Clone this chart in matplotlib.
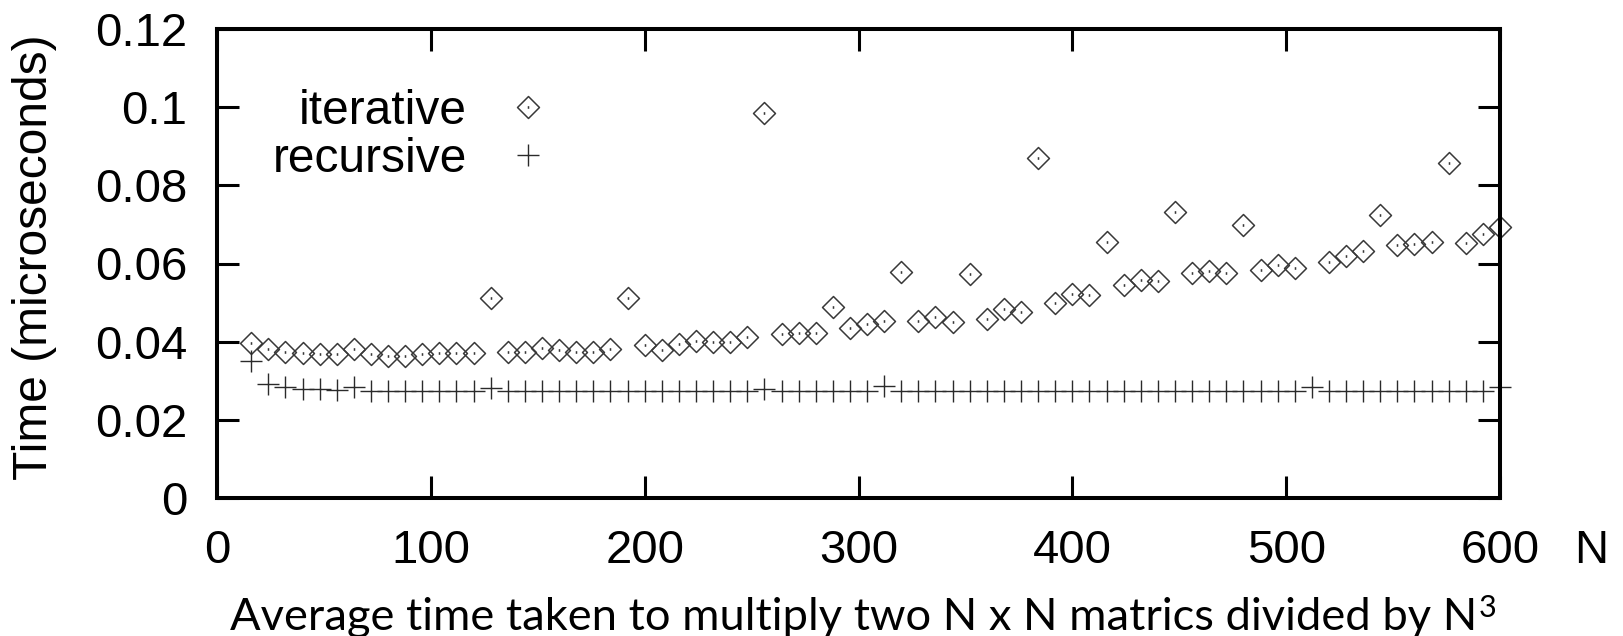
import numpy as np
import matplotlib
matplotlib.use("Agg")
import matplotlib.pyplot as plt
from matplotlib.path import Path

# Matrix sizes N that were timed
n_sizes = [16, 24, 32, 40, 48, 56, 64, 72, 80, 88, 96, 104, 112, 120, 128, 136,
           144, 152, 160, 168, 176, 184, 192, 200, 208, 216, 224, 232, 240, 248,
           256, 264, 272, 280, 288, 296, 304, 312, 320, 328, 336, 344, 352, 360,
           368, 376, 384, 392, 400, 408, 416, 424, 432, 440, 448, 456, 464, 472,
           480, 488, 496, 504, 512, 520, 528, 536, 544, 552, 560, 568, 576, 584,
           592, 600]

# Average time / N^3 (microseconds), iterative algorithm (N=512 is off the scale)
iterative = [0.0396, 0.0381, 0.0374, 0.0372, 0.0368, 0.0368, 0.0381, 0.0368,
             0.0364, 0.0364, 0.0368, 0.0372, 0.0372, 0.0372, 0.0511, 0.0374,
             0.0374, 0.0383, 0.0379, 0.0374, 0.0374, 0.0381, 0.0511, 0.0391,
             0.0379, 0.0393, 0.0402, 0.0398, 0.0400, 0.0411, 0.0986, 0.0420,
             0.0421, 0.0423, 0.0489, 0.0434, 0.0445, 0.0454, 0.0579, 0.0454,
             0.0462, 0.0451, 0.0573, 0.0458, 0.0483, 0.0477, 0.0871, 0.0498,
             0.0522, 0.0520, 0.0656, 0.0545, 0.0558, 0.0555, 0.0733, 0.0575,
             0.0582, 0.0575, 0.0698, 0.0583, 0.0596, 0.0588, np.nan, 0.0605,
             0.0619, 0.0633, 0.0724, 0.0647, 0.0649, 0.0655, 0.0856, 0.0653,
             0.0676, 0.0694]

# Average time / N^3 (microseconds), recursive algorithm
recursive = [0.0351, 0.0292, 0.0283, 0.0279, 0.0278, 0.0276, 0.0283, 0.0274,
             0.0274, 0.0274, 0.0274, 0.0274, 0.0274, 0.0274, 0.0281, 0.0274,
             0.0274, 0.0274, 0.0274, 0.0274, 0.0274, 0.0274, 0.0274, 0.0274,
             0.0274, 0.0274, 0.0274, 0.0274, 0.0274, 0.0274, 0.0279, 0.0274,
             0.0274, 0.0274, 0.0274, 0.0274, 0.0274, 0.0287, 0.0274, 0.0274,
             0.0274, 0.0274, 0.0274, 0.0274, 0.0274, 0.0274, 0.0274, 0.0274,
             0.0274, 0.0274, 0.0274, 0.0274, 0.0274, 0.0274, 0.0274, 0.0274,
             0.0274, 0.0274, 0.0274, 0.0274, 0.0274, 0.0274, 0.0285, 0.0274,
             0.0274, 0.0274, 0.0274, 0.0274, 0.0274, 0.0274, 0.0274, 0.0274,
             0.0275, 0.0285]

x_ticks = [0, 100, 200, 300, 400, 500, 600]
y_ticks = [0, 0.02, 0.04, 0.06, 0.08, 0.10, 0.12]
y_tick_labels = ["0", "0.02", "0.04", "0.06", "0.08", "0.1", "0.12"]

plt.rcParams["font.family"] = ["Liberation Sans", "DejaVu Sans"]

W, H = 1623, 636
fig = plt.figure(figsize=(W / 100, H / 100), dpi=100)
fig.patch.set_facecolor("white")
ax = fig.add_axes([217 / W, 1 - 498 / H, (1500 - 217) / W, (498 - 29) / H])

# gnuplot-style open diamond with a tiny centre dot
diamond = Path(
    [(0, 1), (1, 0), (0, -1), (-1, 0), (0, 1), (0, 0.12), (0, -0.12)],
    [Path.MOVETO, Path.LINETO, Path.LINETO, Path.LINETO, Path.CLOSEPOLY,
     Path.MOVETO, Path.LINETO],
)

ax.plot(n_sizes, iterative, linestyle="none", marker=diamond, markersize=15.8,
        markerfacecolor="none", markeredgecolor="#383838", markeredgewidth=1.1,
        clip_on=False, label="iterative")
ax.plot(n_sizes, recursive, linestyle="none", marker="+", markersize=15.8,
        markeredgecolor="#2a2a2a", markeredgewidth=1.0,
        clip_on=False, label="recursive")

ax.set_xlim(0, 600)
ax.set_ylim(0, 0.12)
ax.set_xticks(x_ticks)
ax.set_xticklabels([str(v) for v in x_ticks])
ax.set_yticks(y_ticks)
ax.set_yticklabels(y_tick_labels)

for sp in ax.spines.values():
    sp.set_linewidth(2.9)
    sp.set_color("black")

ax.tick_params(axis="both", which="major", direction="in", length=16, width=2.2,
               top=True, right=True, labelsize=34, colors="black")
ax.tick_params(axis="x", pad=22)
ax.tick_params(axis="y", pad=21.5)

ax.set_ylabel("Time (microseconds)", fontsize=34.5, va="center")
ax.yaxis.set_label_coords(-0.1419, 0.514)

# axis name "N" to the right of the x tick labels
ax.annotate("N", xy=(1, 0), xycoords="axes fraction", xytext=(66, -22),
            textcoords="offset points", ha="center", va="top", fontsize=34)

xlab = ax.set_xlabel("Average time taken to multiply two N x N matrics divided by N",
                     fontsize=32.6, family=["Lato", "DejaVu Sans"], va="top")
ax.xaxis.set_label_coords(0.496, -0.211)
ax.annotate("3", xy=(1, 1), xycoords=xlab, xytext=(1, 2),
            textcoords="offset points", ha="left", va="top",
            fontsize=22, family=["Lato", "DejaVu Sans"])

ax.legend(loc="center", bbox_to_anchor=(0.152, 0.7735), markerfirst=False,
          frameon=False, fontsize=34.5, handlelength=1.0, handletextpad=0.77,
          labelspacing=0.07, borderpad=0, borderaxespad=0, numpoints=1)

fig.savefig("out.png", dpi=100, facecolor="white")
